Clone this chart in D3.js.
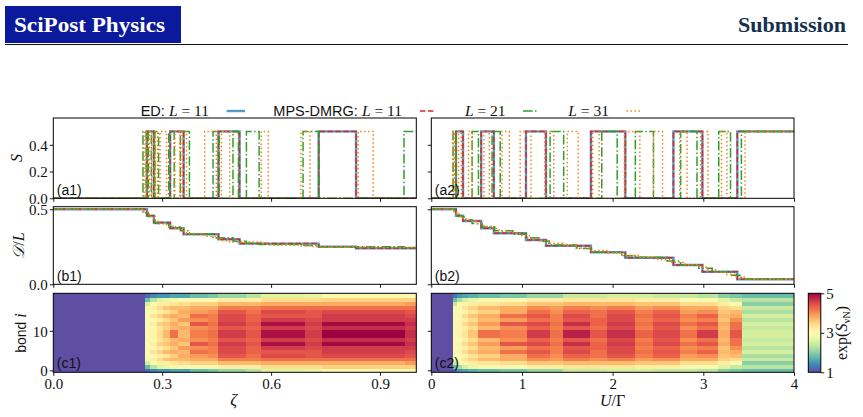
<!DOCTYPE html>
<html>
<head>
<meta charset="utf-8">
<script src="https://cdn.jsdelivr.net/npm/d3@7"></script>
<style>
  body { margin: 0; background: #fff; }
  svg { display: block; }
</style>
</head>
<body>
<div id="wrapper"></div>
<script>
/* data
S panels: intervals where S = 0.5 (otherwise 0)
D/L panels: step breakpoints [x, value] (value holds until next x)
heatmaps: column edges + half profile of exp(S_vN) for bonds 0..9 (chain is mirror symmetric) */

const zetaTicks = [0, 0.3, 0.6, 0.9];
const uTicks = [0, 1, 2, 3, 4];

// (a1) S vs zeta
const sEdL11Zeta = [[0.258, 0.277], [0.322, 0.359], [0.455, 0.513], [0.731, 0.834]];
const sDmrgL11Zeta = [[0.258, 0.277], [0.322, 0.359], [0.455, 0.513], [0.731, 0.834]];
const sDmrgL21Zeta = [[0.247, 0.256], [0.262, 0.27], [0.28, 0.29], [0.318, 0.333], [0.35, 0.375],
  [0.44, 0.457], [0.495, 0.51], [0.532, 0.567], [0.688, 0.732], [0.966, 1.0]];
const sDmrgL31Zeta = [[0.25, 0.256], [0.264, 0.271], [0.28, 0.287], [0.294, 0.312], [0.335, 0.349],
  [0.355, 0.367], [0.417, 0.449], [0.463, 0.486], [0.573, 0.592], [0.682, 0.707], [0.84, 0.881]];

// (a2) S vs U/Gamma
const sEdL11U = [[0.272, 0.35], [0.55, 0.69], [1.044, 1.265], [1.76, 2.14], [2.67, 2.99], [3.375, 4.0]];
const sDmrgL11U = [[0.272, 0.35], [0.55, 0.69], [1.044, 1.265], [1.76, 2.14], [2.67, 2.99], [3.375, 4.0]];
const sDmrgL21U = [[0.24, 0.275], [0.45, 0.52], [0.67, 0.76], [1.31, 1.46], [1.88, 2.05],
  [2.25, 2.45], [2.75, 2.93], [3.17, 3.3], [3.42, 4.0]];
const sDmrgL31U = [[0.235, 0.255], [0.3, 0.33], [0.41, 0.45], [0.58, 0.64], [0.78, 0.86], [0.98, 1.1],
  [1.25, 1.35], [1.5, 1.62], [1.78, 1.85], [2.13, 2.3], [2.45, 2.55], [2.74, 2.82], [2.97, 3.05],
  [3.2, 3.26], [3.46, 4.0]];

// (b1) D/L vs zeta
const dEdL11Zeta = [[0, 0.5], [0.258, 0.457], [0.277, 0.411], [0.322, 0.373], [0.359, 0.333],
  [0.455, 0.3], [0.513, 0.271], [0.731, 0.251], [0.834, 0.24]];
const dDmrgL11Zeta = [[0, 0.5], [0.258, 0.457], [0.277, 0.411], [0.322, 0.373], [0.359, 0.333],
  [0.455, 0.3], [0.513, 0.271], [0.731, 0.251], [0.834, 0.24]];
const dDmrgL21Zeta = [[0, 0.5], [0.247, 0.476], [0.262, 0.452], [0.28, 0.405], [0.318, 0.381],
  [0.35, 0.357], [0.375, 0.333], [0.44, 0.31], [0.495, 0.286], [0.532, 0.274], [0.567, 0.265],
  [0.688, 0.258], [0.732, 0.25], [0.966, 0.245]];
const dDmrgL31Zeta = [[0, 0.5], [0.25, 0.484], [0.264, 0.452], [0.28, 0.42], [0.294, 0.403],
  [0.312, 0.387], [0.335, 0.371], [0.355, 0.355], [0.367, 0.339], [0.417, 0.32], [0.449, 0.306],
  [0.463, 0.29], [0.486, 0.282], [0.573, 0.268], [0.592, 0.262], [0.682, 0.257], [0.707, 0.252],
  [0.84, 0.248], [0.881, 0.245]];

// (b2) D/L vs U/Gamma
const dEdL11U = [[0, 0.5], [0.272, 0.457], [0.35, 0.422], [0.55, 0.373], [0.69, 0.34], [1.044, 0.295],
  [1.265, 0.257], [1.76, 0.213], [2.14, 0.177], [2.67, 0.129], [2.99, 0.084], [3.375, 0.033]];
const dDmrgL11U = [[0, 0.5], [0.272, 0.457], [0.35, 0.422], [0.55, 0.373], [0.69, 0.34], [1.044, 0.295],
  [1.265, 0.257], [1.76, 0.213], [2.14, 0.177], [2.67, 0.129], [2.99, 0.084], [3.375, 0.033]];
const dDmrgL21U = [[0, 0.5], [0.26, 0.476], [0.3, 0.452], [0.36, 0.43], [0.45, 0.405], [0.56, 0.381],
  [0.7, 0.357], [0.9, 0.333], [1.06, 0.31], [1.2, 0.286], [1.3, 0.262], [1.6, 0.238], [1.78, 0.214],
  [2.1, 0.19], [2.25, 0.18], [2.6, 0.155], [2.75, 0.131], [2.95, 0.107], [3.1, 0.083], [3.3, 0.06],
  [3.42, 0.035]];
const dDmrgL31U = [[0, 0.5], [0.25, 0.484], [0.28, 0.468], [0.31, 0.452], [0.35, 0.436], [0.42, 0.42],
  [0.5, 0.403], [0.58, 0.387], [0.68, 0.371], [0.75, 0.355], [0.9, 0.339], [1.0, 0.323], [1.1, 0.306],
  [1.2, 0.29], [1.3, 0.274], [1.45, 0.258], [1.6, 0.242], [1.75, 0.226], [1.95, 0.21], [2.1, 0.194],
  [2.3, 0.18], [2.5, 0.163], [2.65, 0.147], [2.8, 0.13], [2.95, 0.113], [3.05, 0.097], [3.15, 0.081],
  [3.25, 0.065], [3.35, 0.048], [3.46, 0.032]];

// (c1) exp(S_vN) heatmap vs zeta
const heatEdgesZeta = [0, 0.252, 0.266, 0.285, 0.303, 0.321, 0.344, 0.376, 0.427, 0.454, 0.532, 0.572,
  0.693, 0.741, 0.968, 1.0];
const heatProfilesZeta = [
  [1, 1, 1, 1, 1, 1, 1, 1, 1, 1],
  [1.2, 1.8, 2.5, 2.8, 2.9, 3.0, 3.0, 3.0, 3.0, 3.0],
  [1.4, 2.3, 2.9, 3.2, 3.0, 3.3, 3.0, 3.2, 3.0, 3.1],
  [1.5, 2.6, 3.2, 3.4, 3.2, 3.5, 3.2, 3.5, 3.3, 3.4],
  [1.5, 2.7, 3.2, 3.6, 3.3, 3.7, 3.4, 3.6, 3.5, 3.7],
  [1.6, 2.8, 3.3, 3.7, 3.5, 3.8, 3.6, 3.8, 3.7, 4.2],
  [1.6, 2.9, 3.4, 3.7, 3.8, 3.7, 3.9, 3.6, 3.8, 3.7],
  [1.8, 3.0, 3.5, 3.8, 3.9, 4.2, 4.0, 4.4, 4.0, 4.1],
  [1.9, 3.0, 3.5, 3.8, 4.0, 4.1, 4.1, 4.2, 4.1, 4.2],
  [2.1, 3.2, 3.7, 4.1, 4.4, 4.5, 4.5, 4.6, 4.4, 4.6],
  [2.3, 3.2, 3.7, 4.1, 4.2, 4.3, 4.3, 4.4, 4.3, 4.4],
  [2.6, 3.4, 3.8, 4.2, 4.5, 4.4, 4.6, 4.9, 4.6, 4.9],
  [2.7, 3.4, 3.8, 4.2, 4.4, 4.4, 4.5, 4.6, 4.5, 4.6],
  [3.0, 3.5, 3.8, 4.2, 4.5, 4.6, 4.6, 4.95, 4.7, 5.0],
  [3.0, 3.5, 3.9, 4.2, 4.4, 4.5, 4.6, 4.7, 4.6, 4.7]
];

// (c2) exp(S_vN) heatmap vs U/Gamma
const heatEdgesU = [0, 0.243, 0.28, 0.335, 0.408, 0.518, 0.757, 1.052, 1.309, 1.456, 1.75, 1.934,
  2.246, 2.448, 2.743, 2.927, 3.165, 3.294, 3.423, 4.0];
const heatProfilesU = [
  [1, 1, 1, 1, 1, 1, 1, 1, 1, 1],
  [1.3, 1.8, 2.4, 2.8, 2.9, 3.0, 3.0, 3.0, 3.0, 3.0],
  [1.5, 2.2, 2.9, 3.1, 3.0, 3.1, 3.0, 3.1, 3.0, 3.1],
  [1.6, 2.5, 3.1, 3.3, 3.1, 3.4, 3.2, 3.4, 3.2, 3.3],
  [1.7, 2.7, 3.2, 3.5, 3.3, 3.6, 3.4, 3.6, 3.4, 3.6],
  [1.8, 2.9, 3.3, 3.7, 3.5, 3.8, 3.7, 3.9, 3.7, 4.2],
  [1.9, 3.0, 3.4, 3.8, 3.8, 4.2, 3.9, 4.4, 4.0, 4.1],
  [2.1, 3.2, 3.6, 4.0, 4.2, 4.4, 4.2, 4.5, 4.3, 4.6],
  [2.1, 3.2, 3.6, 3.9, 4.0, 4.1, 4.1, 4.2, 4.1, 4.2],
  [2.4, 3.3, 3.7, 4.1, 4.3, 4.5, 4.4, 4.7, 4.4, 4.8],
  [2.4, 3.3, 3.7, 4.0, 4.2, 4.2, 4.3, 4.3, 4.2, 4.4],
  [2.5, 3.3, 3.7, 4.1, 4.4, 4.5, 4.5, 4.6, 4.5, 4.7],
  [2.5, 3.2, 3.6, 3.9, 4.1, 4.2, 4.1, 4.2, 4.1, 4.3],
  [2.4, 3.2, 3.6, 4.0, 4.3, 4.4, 4.3, 4.5, 4.4, 4.5],
  [2.4, 2.9, 3.4, 3.8, 3.9, 4.1, 4.0, 4.2, 4.0, 4.2],
  [2.3, 2.9, 3.4, 3.8, 4.0, 4.3, 4.1, 4.4, 4.2, 4.6],
  [2.0, 2.6, 3.2, 3.5, 3.6, 3.7, 3.6, 3.8, 3.7, 3.8],
  [1.9, 2.4, 2.9, 3.4, 3.7, 3.8, 4.0, 4.2, 4.2, 4.4],
  [1.8, 2.3, 2.0, 2.4, 2.2, 2.5, 2.3, 2.5, 2.4, 2.5]
];
const nBonds = 20;
const cbTicks = [1, 3, 5];

/* step 1: canvas */
const width = 863, height = 417;
const svg = d3.select("#wrapper").append("svg")
  .attr("width", width).attr("height", height);

const serif = "'Liberation Serif', 'DejaVu Serif', serif";
const sans = "'Liberation Sans', Arial, sans-serif";

/* step 2: header of the paper page */
svg.append("rect").attr("x", 5).attr("y", 6).attr("width", 176).attr("height", 37).attr("fill", "#0b199d");
svg.append("text").attr("x", 14).attr("y", 32)
  .attr("fill", "#fff").style("font-family", serif).style("font-weight", "bold").style("font-size", "21px")
  .attr("textLength", 151).attr("lengthAdjust", "spacingAndGlyphs")
  .text("SciPost Physics");
svg.append("text").attr("x", 738).attr("y", 32)
  .attr("fill", "#13304d").style("font-family", serif).style("font-weight", "bold").style("font-size", "21px")
  .attr("textLength", 108).attr("lengthAdjust", "spacingAndGlyphs")
  .text("Submission");
svg.append("line").attr("x1", 5).attr("x2", 848).attr("y1", 44.5).attr("y2", 44.5)
  .attr("stroke", "#111").attr("stroke-width", 1.2);

/* step 3: scales */
const xL = d3.scaleLinear().domain([0, 1]).range([53.3, 416.3]);
const xR = d3.scaleLinear().domain([0, 4]).range([431.3, 794]);
const yA = d3.scaleLinear().domain([0, 0.6]).range([198.3, 118]);
const yB = d3.scaleLinear().domain([0, 0.517]).range([284.3, 206.7]);
const yC = d3.scaleLinear().domain([-0.5, nBonds - 0.5]).range([372.3, 293.3]);
const color = v => d3.interpolateSpectral(1 - (v - 1) / 4);

const series = [
  { stroke: "#1f77b4", width: 2.4, dash: null, opacity: 0.75 },
  { stroke: "#d62728", width: 1.5, dash: "5.5,2.4", opacity: 1 },
  { stroke: "#2ca02c", width: 1.5, dash: "9.6,2.4,1.5,2.4", opacity: 1 },
  { stroke: "#ff7f0e", width: 1.5, dash: "1.5,2.5", opacity: 1 }
];

let clipId = 0;
function panel(x, y) {
  const g = svg.append("g");
  const id = "clip" + (clipId++);
  g.append("clipPath").attr("id", id).append("rect")
    .attr("x", x.range()[0]).attr("y", y.range()[1])
    .attr("width", x.range()[1] - x.range()[0]).attr("height", y.range()[0] - y.range()[1]);
  const inner = g.append("g").attr("clip-path", `url(#${id})`);
  return { g, inner };
}

function frame(g, x, y) {
  g.append("rect")
    .attr("x", x.range()[0]).attr("y", y.range()[1])
    .attr("width", x.range()[1] - x.range()[0]).attr("height", y.range()[0] - y.range()[1])
    .attr("fill", "none").attr("stroke", "#000").attr("stroke-width", 1);
}

function styleAxis(a) {
  a.select(".domain").remove();
  a.selectAll(".tick line").attr("stroke", "#000").attr("stroke-width", 0.9);
  a.selectAll(".tick text").style("font-family", serif).style("font-size", "15px").attr("fill", "#111");
}

function axes(g, x, y, xt, yt, xfmt, yfmt) {
  const ax = g.append("g").attr("transform", `translate(0,${y.range()[0]})`)
    .call(d3.axisBottom(x).tickValues(xt).tickSize(3.5).tickPadding(3).tickFormat(xfmt));
  styleAxis(ax);
  const ay = g.append("g").attr("transform", `translate(${x.range()[0]},0)`)
    .call(d3.axisLeft(y).tickValues(yt).tickSize(3.5).tickPadding(2).tickFormat(yfmt));
  styleAxis(ay);
  ay.selectAll(".tick text").attr("dy", "0.36em");
}

function label(g, x, y, txt) {
  g.append("text").attr("x", x).attr("y", y)
    .style("font-family", sans).style("font-size", "14px").attr("fill", "#111").text(txt);
}

/* step 4: S panels */
function sPath(intervals, x0, x1) {
  const pts = [[x0, 0]];
  intervals.forEach(([a, b]) => {
    pts.push([a, 0], [a, 0.5], [b, 0.5]);
    if (b < x1) pts.push([b, 0]);
  });
  const last = intervals[intervals.length - 1];
  if (last[1] < x1) pts.push([x1, 0]);
  return pts;
}

function drawS(x, data, name) {
  const p = panel(x, yA);
  const line = d3.line().x(d => x(d[0])).y(d => yA(d[1]));
  const dom = x.domain();
  data.forEach((iv, k) => {
    const s = series[k];
    p.inner.append("path").datum(sPath(iv, dom[0], dom[1]))
      .attr("d", line).attr("fill", "none")
      .attr("stroke", s.stroke).attr("stroke-width", s.width).attr("stroke-dasharray", s.dash)
      .attr("stroke-opacity", s.opacity);
  });
  frame(p.g, x, yA);
  axes(p.g, x, yA, x === xL ? zetaTicks : uTicks, [0, 0.2, 0.4], () => "",
    x === xL ? d3.format(".1f") : () => "");
  label(p.g, x.range()[0] + 3.5, 195, name);
}
drawS(xL, [sEdL11Zeta, sDmrgL11Zeta, sDmrgL21Zeta, sDmrgL31Zeta], "(a1)");
drawS(xR, [sEdL11U, sDmrgL11U, sDmrgL21U, sDmrgL31U], "(a2)");

/* step 5: D/L panels */
function drawD(x, data, name) {
  const p = panel(x, yB);
  const line = d3.line().x(d => x(d[0])).y(d => yB(d[1])).curve(d3.curveStepAfter);
  data.forEach((steps, k) => {
    const s = series[k];
    const pts = steps.concat([[x.domain()[1], steps[steps.length - 1][1]]]);
    p.inner.append("path").datum(pts)
      .attr("d", line).attr("fill", "none")
      .attr("stroke", s.stroke).attr("stroke-width", s.width).attr("stroke-dasharray", s.dash)
      .attr("stroke-opacity", s.opacity);
  });
  frame(p.g, x, yB);
  axes(p.g, x, yB, x === xL ? zetaTicks : uTicks, [0, 0.5], () => "",
    x === xL ? d3.format(".1f") : () => "");
  label(p.g, x.range()[0] + 3.5, 281, name);
}
drawD(xL, [dEdL11Zeta, dDmrgL11Zeta, dDmrgL21Zeta, dDmrgL31Zeta], "(b1)");
drawD(xR, [dEdL11U, dDmrgL11U, dDmrgL21U, dDmrgL31U], "(b2)");

/* step 6: heatmaps */
function drawHeat(x, edges, profiles, xfmt, name) {
  const p = panel(x, yC);
  const cells = [];
  profiles.forEach((prof, c) => {
    for (let i = 0; i < nBonds; i++) {
      cells.push({ x0: edges[c], x1: edges[c + 1], i, v: prof[i < nBonds / 2 ? i : nBonds - 1 - i] });
    }
  });
  p.inner.selectAll("rect.cell").data(cells).join("rect").attr("class", "cell")
    .attr("x", d => x(d.x0)).attr("width", d => x(d.x1) - x(d.x0) + 1)
    .attr("y", d => yC(d.i + 0.5)).attr("height", d => yC(d.i - 0.5) - yC(d.i + 0.5) + 1)
    .attr("shape-rendering", "crispEdges")
    .attr("fill", d => color(d.v));
  frame(p.g, x, yC);
  axes(p.g, x, yC, x === xL ? zetaTicks : uTicks, [0, 10], xfmt,
    x === xL ? d3.format("d") : () => "");
  label(p.g, x.range()[0] + 3.5, 368, name);
}
drawHeat(xL, heatEdgesZeta, heatProfilesZeta, d3.format(".1f"), "(c1)");
drawHeat(xR, heatEdgesU, heatProfilesU, d3.format("d"), "(c2)");

/* step 7: colorbar */
const cbScale = d3.scaleLinear().domain([1, 5]).range([372.3, 293.3]);
const grad = svg.append("defs").append("linearGradient").attr("id", "cbgrad")
  .attr("x1", 0).attr("y1", 1).attr("x2", 0).attr("y2", 0);
d3.range(0, 1.0001, 0.05).forEach(t => {
  grad.append("stop").attr("offset", t).attr("stop-color", color(1 + 4 * t));
});
svg.append("rect").attr("x", 808.3).attr("y", 293.3).attr("width", 12.5).attr("height", 79)
  .attr("fill", "url(#cbgrad)").attr("stroke", "#000").attr("stroke-width", 1);
const cbAxis = svg.append("g").attr("transform", "translate(820.8,0)")
  .call(d3.axisRight(cbScale).tickValues(cbTicks).tickSize(3.5).tickPadding(2).tickFormat(d3.format("d")));
styleAxis(cbAxis);

/* step 8: axis titles */
function rotText(x, y, rot) {
  return svg.append("text")
    .attr("transform", `translate(${x},${y}) rotate(${rot})`)
    .attr("text-anchor", "middle").attr("fill", "#111");
}
rotText(22, 158, -90).style("font-family", serif).style("font-size", "16px")
  .style("font-style", "italic").text("S");
const dl = rotText(24, 245.5, -90).style("font-family", serif).style("font-size", "16px");
dl.append("tspan").style("font-style", "italic").text("𝒟");
dl.append("tspan").text("/");
dl.append("tspan").style("font-style", "italic").text("L");
const bi = rotText(26, 333, -90).style("font-size", "14px");
bi.append("tspan").style("font-family", sans).text("bond ");
bi.append("tspan").style("font-family", serif).style("font-style", "italic").style("font-size", "16px").text("i");

svg.append("text").attr("x", xL(0.5) - 1).attr("y", 405).attr("text-anchor", "middle")
  .style("font-family", serif).style("font-size", "17px").style("font-style", "italic").attr("fill", "#111")
  .text("ζ");
const ug = svg.append("text").attr("x", xR(2)).attr("y", 406).attr("text-anchor", "middle")
  .style("font-family", serif).style("font-size", "16px").attr("fill", "#111");
ug.append("tspan").style("font-style", "italic").text("U");
ug.append("tspan").text("/Γ");

const ex = rotText(847, 333, -90).style("font-family", serif).style("font-size", "16px");
ex.append("tspan").text("exp(");
ex.append("tspan").style("font-style", "italic").text("S");
ex.append("tspan").attr("dy", 3).style("font-size", "10px").text("vN");
ex.append("tspan").attr("dy", -3).text(")");

/* step 9: legend above the top panels */
const legendItems = [
  { pre: "ED: ", n: "11", x: 140.7, lx: [226.7, 245] },
  { pre: "MPS-DMRG: ", n: "11", x: 273.3, lx: [420, 434] },
  { pre: "", n: "21", x: 465, lx: [523, 538] },
  { pre: "", n: "31", x: 568.3, lx: [626.5, 641] }
];
legendItems.forEach((it, k) => {
  const t = svg.append("text").attr("x", it.x).attr("y", 116).attr("fill", "#111").style("font-size", "15.5px");
  if (it.pre) t.append("tspan").style("font-family", sans).style("font-size", "14.5px").text(it.pre);
  t.append("tspan").style("font-family", serif).style("font-style", "italic").text("L");
  t.append("tspan").style("font-family", serif).text(" = " + it.n);
  const s = series[k];
  svg.append("line").attr("x1", it.lx[0]).attr("x2", it.lx[1]).attr("y1", 111).attr("y2", 111)
    .attr("stroke", s.stroke).attr("stroke-width", s.width).attr("stroke-dasharray", s.dash)
    .attr("stroke-opacity", s.opacity);
});
</script>
</body>
</html>
